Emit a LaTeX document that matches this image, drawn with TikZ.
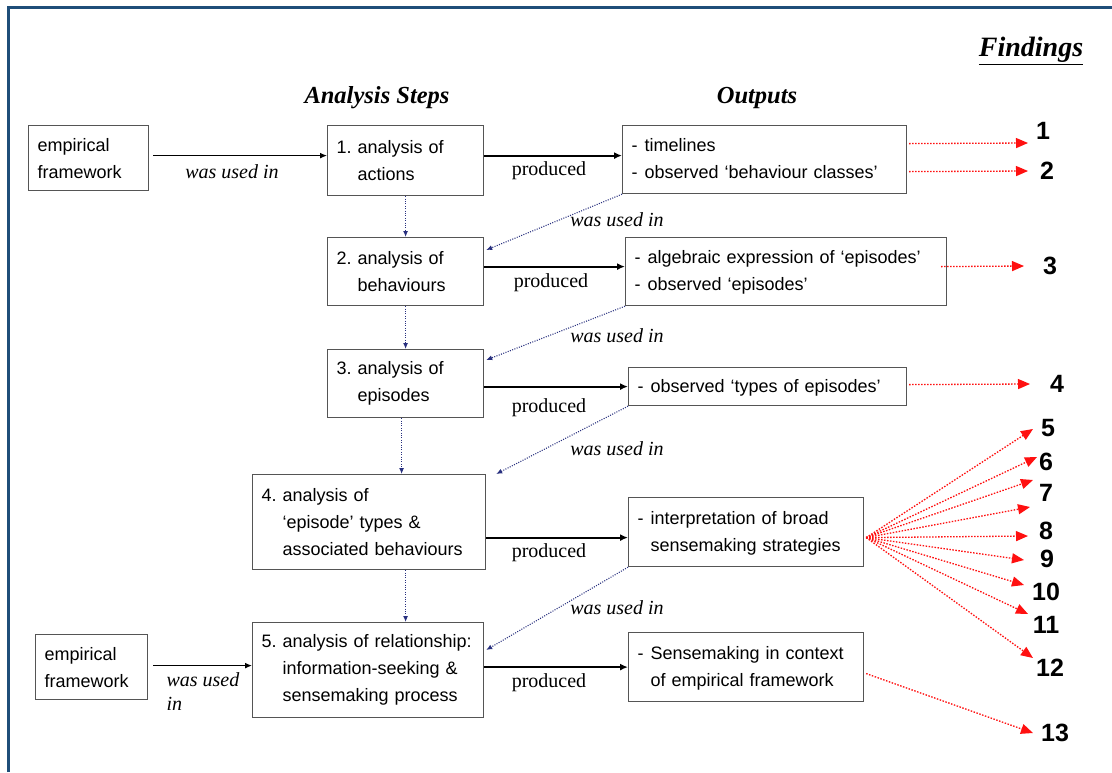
\documentclass[tikz,border=0pt]{standalone}
\usepackage{fontspec}
\setmainfont{Liberation Serif}
\setsansfont{Liberation Sans}
\usetikzlibrary{arrows.meta,calc}
\definecolor{frameblue}{HTML}{1F4E79}
\definecolor{linkblue}{HTML}{28307F}
\definecolor{findred}{HTML}{FF1010}
\definecolor{boxgray}{HTML}{555555}
\frenchspacing

\begin{document}
\begin{tikzpicture}[x=1pt,y=-1pt,
  stepbox/.style={draw=boxgray, line width=1.2pt, rectangle, anchor=north west,
    inner xsep=9pt, inner ysep=0pt, align=left,
    font=\sffamily\fontsize{18}{27}\selectfont},
  heading/.style={font=\bfseries\itshape\fontsize{24.5}{28}\selectfont},
  edgelabel/.style={font=\fontsize{20}{24}\selectfont},
  usedlabel/.style={font=\itshape\fontsize{20}{24}\selectfont},
  finding/.style={font=\sffamily\bfseries\fontsize{25}{30}\selectfont},
  feeds/.style={line width=1.2pt, -{Latex[length=7pt,width=6pt]}},
  produces/.style={line width=2.2pt, -{Latex[length=8pt,width=7pt]}},
  reuse/.style={linkblue, line width=1.1pt, dash pattern=on 1pt off 1.4pt,
    -{Latex[length=6pt,width=5pt]}},
  result/.style={findred, line width=1.3pt, dash pattern=on 1.5pt off 1.5pt,
    -{Triangle[length=12pt,width=10pt]}}]

\useasboundingbox (0,0) rectangle (1112,772);
\fill[white] (0,0) rectangle (1112,772);
\draw[frameblue, line width=3pt] (8,772) -- (8,7) -- (1112,7);

% column headings
\node[heading] (hsteps) at (377,98) {Analysis Steps};
\node[heading] (hout) at (757,98) {Outputs};
\node[font=\bfseries\itshape\fontsize{28}{32}\selectfont] (hfind) at (1031,51) {\underline{Findings}};

% input frameworks
\node[stepbox, text width=102pt, minimum height=65pt] (E1) at (28,125) {empirical\\framework};
\node[stepbox, text width=94pt, minimum height=65pt] (E2) at (35,634) {empirical\\framework};

% analysis steps
\node[stepbox, text width=138pt, minimum height=70pt] (S1) at (327,125)
  {1. analysis of\\\phantom{1. }actions};
\node[stepbox, text width=138pt, minimum height=68pt] (S2) at (327,237)
  {2. analysis of\\\phantom{2. }behaviours};
\node[stepbox, text width=138pt, minimum height=68pt] (S3) at (327,349)
  {3. analysis of\\\phantom{3. }episodes};
\node[stepbox, text width=215pt, minimum height=95pt] (S4) at (252,474)
  {4. analysis of\\\phantom{4. }‘episode’ types \&\\\phantom{4. }associated behaviours};
\node[stepbox, text width=213pt, minimum height=95pt] (S5) at (252,622)
  {\mbox{5. analysis of relationship:}\\\phantom{5. }information-seeking \&\\\phantom{5. }sensemaking process};

% outputs
\node[stepbox, text width=266pt, minimum height=68pt] (O1) at (622,125)
  {\begin{tabular}{@{}l@{\hspace{7pt}}l@{}}-&timelines\\-&observed ‘behaviour classes’\end{tabular}};
\node[stepbox, text width=303pt, minimum height=68pt] (O2) at (625,237)
  {\begin{tabular}{@{}l@{\hspace{7pt}}l@{}}-&algebraic expression of ‘episodes’\\-&observed ‘episodes’\end{tabular}};
\node[stepbox, text width=260pt, minimum height=38pt] (O3) at (628,367)
  {\begin{tabular}{@{}l@{\hspace{7pt}}l@{}}-&observed ‘types of episodes’\end{tabular}};
\node[stepbox, text width=217pt, minimum height=69pt] (O4) at (628,497)
  {\begin{tabular}{@{}l@{\hspace{7pt}}l@{}}-&interpretation of broad\\&sensemaking strategies\end{tabular}};
\node[stepbox, text width=217pt, minimum height=69pt] (O5) at (628,632)
  {\begin{tabular}{@{}l@{\hspace{7pt}}l@{}}-&Sensemaking in context\\&of empirical framework\end{tabular}};

% frameworks feed the steps
\draw[feeds, shorten <=4pt] ([yshift=2.5pt]E1.east) -- ([yshift=2.5pt]E1.east -| S1.west);
\node[usedlabel] (l0) at (232,172) {was used in};
\draw[feeds, shorten <=5pt] ([yshift=1.5pt]E2.east) -- ([yshift=1.5pt]E2.east -| S5.west);
\node[usedlabel, align=left, anchor=west] (l5) at (163,692) {was used\\in};

% steps produce outputs
\draw[produces] ([yshift=5pt]S1.east) -- ([yshift=5pt]S1.east -| O1.west);
\draw[produces] ([yshift=5pt]S2.east) -- ([yshift=5pt]S2.east -| O2.west);
\draw[produces] (O3.west -| S3.east) -- (O3.west);
\draw[produces] ([yshift=-5.5pt]O4.west -| S4.east) -- ([yshift=-5.5pt]O4.west);
\draw[produces] (O5.west -| S5.east) -- (O5.west);
\node[edgelabel] (p1) at (549,171) {produced};
\node[edgelabel] (p2) at (551,283) {produced};
\node[edgelabel] (p3) at (549,408) {produced};
\node[edgelabel] (p4) at (549,553) {produced};
\node[edgelabel] (p5) at (549,683) {produced};

% step order
\draw[reuse] (S1.south) -- (S2.north);
\draw[reuse] (S2.south) -- (S3.north);
\draw[reuse] ([xshift=-4pt]S3.south) -- ([xshift=-4pt]S3.south |- S4.north);
\draw[reuse] (S4.south -| S1.south) -- (S5.north -| S1.south);

% outputs reused by the next step
\draw[reuse] (O1.south west) -- ($(S2.north east)+(2,13)$);
\draw[reuse] (O2.south west) -- ($(S3.north east)+(2,11)$);
\draw[reuse] (O3.south west) -- ($(S4.north east)+(10,0)$);
\draw[reuse] (O4.south west) -- ($(S5.north east)+(2,28)$);
\node[usedlabel] (u1) at (617,220) {was used in};
\node[usedlabel] (u2) at (617,336) {was used in};
\node[usedlabel] (u3) at (617,449) {was used in};
\node[usedlabel] (u4) at (617,608) {was used in};

% findings
\node[finding] (n1) at (1043,131) {1};
\node[finding] (n2) at (1047,171) {2};
\node[finding] (n3) at (1050,266) {3};
\node[finding] (n4) at (1057,384) {4};
\node[finding] (n5) at (1048,428) {5};
\node[finding] (n6) at (1046,462) {6};
\node[finding] (n7) at (1046,493) {7};
\node[finding] (n8) at (1046,531) {8};
\node[finding] (n9) at (1047,559) {9};
\node[finding] (n10) at (1046,592) {10};
\node[finding] (n11) at (1046,625) {11};
\node[finding] (n12) at (1050,668) {12};
\node[finding] (n13) at (1055,733) {13};

\coordinate (t1) at (1028,143);
\coordinate (t2) at (1028,171);
\coordinate (t3) at (1024,266);
\coordinate (t4) at (1030,384);
\coordinate (t5) at (1033,429);
\coordinate (t6) at (1037,457);
\coordinate (t7) at (1033,480);
\coordinate (t7b) at (1030,507);
\coordinate (t8) at (1028,536);
\coordinate (t9) at (1024,560);
\coordinate (t10) at (1024,585);
\coordinate (t11) at (1028,614);
\coordinate (t12) at (1033,658);
\coordinate (t13) at (1033,733);

\coordinate (f1) at ($(O1.east)+(2,-16)$);
\coordinate (f2) at ($(O1.east)+(2,12)$);
\coordinate (f3) at ($(O2.east)+(-6,-5)$);
\coordinate (f4) at ($(O3.east)+(2,-2)$);
\coordinate (fan) at ($(O4.east)+(2,5.5)$);
\coordinate (f13) at ($(O5.east)+(2,6.5)$);

\draw[result] (f1) -- (t1);
\draw[result] (f2) -- (t2);
\draw[result] (f3) -- (t3);
\draw[result] (f4) -- (t4);
\foreach \t in {t5,t6,t7,t7b,t8,t9,t10,t11,t12}
  \draw[result] (fan) -- (\t);
\draw[result] (f13) -- (t13);

\end{tikzpicture}
\end{document}
